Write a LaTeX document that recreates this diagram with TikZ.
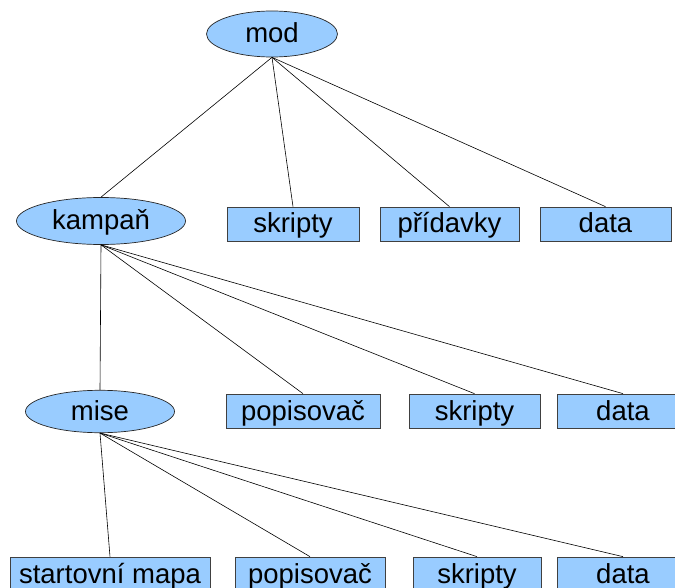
\documentclass[tikz,border=0pt]{standalone}
\usepackage{fontspec}
\setmainfont{Liberation Sans}
\usepackage{xcolor}
\usepackage{tikz}
\usetikzlibrary{shapes.geometric}

\definecolor{nodeblue}{HTML}{99CCFF}

\begin{document}
\begin{tikzpicture}[x=1pt, y=-1pt,
  ellnode/.style={ellipse, draw=black!85, fill=nodeblue, line width=0.7pt,
    inner sep=0pt, text height=24pt, text depth=6pt,
    font=\fontsize{27.5}{30}\selectfont},
  dirbox/.style={rectangle, draw=black!75, fill=nodeblue, line width=0.7pt,
    inner sep=0pt, minimum height=34pt, text height=24pt, text depth=6pt,
    font=\fontsize{27.5}{30}\selectfont},
  conn/.style={line width=0.6pt},
]
  \useasboundingbox (0,0) rectangle (675,588);

  % top level
  \node[ellnode, minimum width=131pt, minimum height=46pt] (mod) at (272,34) {mod};

  % first row
  \node[ellnode, minimum width=169pt, minimum height=47pt] (kampan) at (101,221) {kampaň};
  \node[dirbox, minimum width=132pt] (skripty1) at (293,224) {skripty};
  \node[dirbox, minimum width=139pt] (pridavky) at (449.5,224) {přídavky};
  \node[dirbox, minimum width=131pt] (data1) at (605.5,224) {data};

  % second row
  \node[ellnode, minimum width=149pt, minimum height=39pt] (mise) at (100,411.5) {mise};
  \node[dirbox, minimum width=154pt] (popis2) at (303,411) {popisovač};
  \node[dirbox, minimum width=131pt] (skripty2) at (474.5,411) {skripty};
  \node[dirbox, minimum width=132pt] (data2) at (623,411) {data};

  % third row
  \node[dirbox, minimum width=200pt] (startmap) at (110,574) {startovní mapa};
  \node[dirbox, minimum width=150pt] (popis3) at (310,574) {popisovač};
  \node[dirbox, minimum width=128pt] (skripty3) at (477,574) {skripty};
  \node[dirbox, minimum width=132pt] (data3) at (623,574) {data};

  \draw[conn] (mod.south) -- (kampan.north);
  \draw[conn] (mod.south) -- (skripty1.north);
  \draw[conn] (mod.south) -- (pridavky.north);
  \draw[conn] (mod.south) -- (data1.north);

  \draw[conn] (kampan.south) -- (mise.north);
  \draw[conn] (kampan.south) -- (popis2.north);
  \draw[conn] (kampan.south) -- (skripty2.north);
  \draw[conn] (kampan.south) -- (data2.north);

  \draw[conn] (mise.south) -- (startmap.north);
  \draw[conn] (mise.south) -- (popis3.north);
  \draw[conn] (mise.south) -- (skripty3.north);
  \draw[conn] (mise.south) -- (data3.north);
\end{tikzpicture}
\end{document}
